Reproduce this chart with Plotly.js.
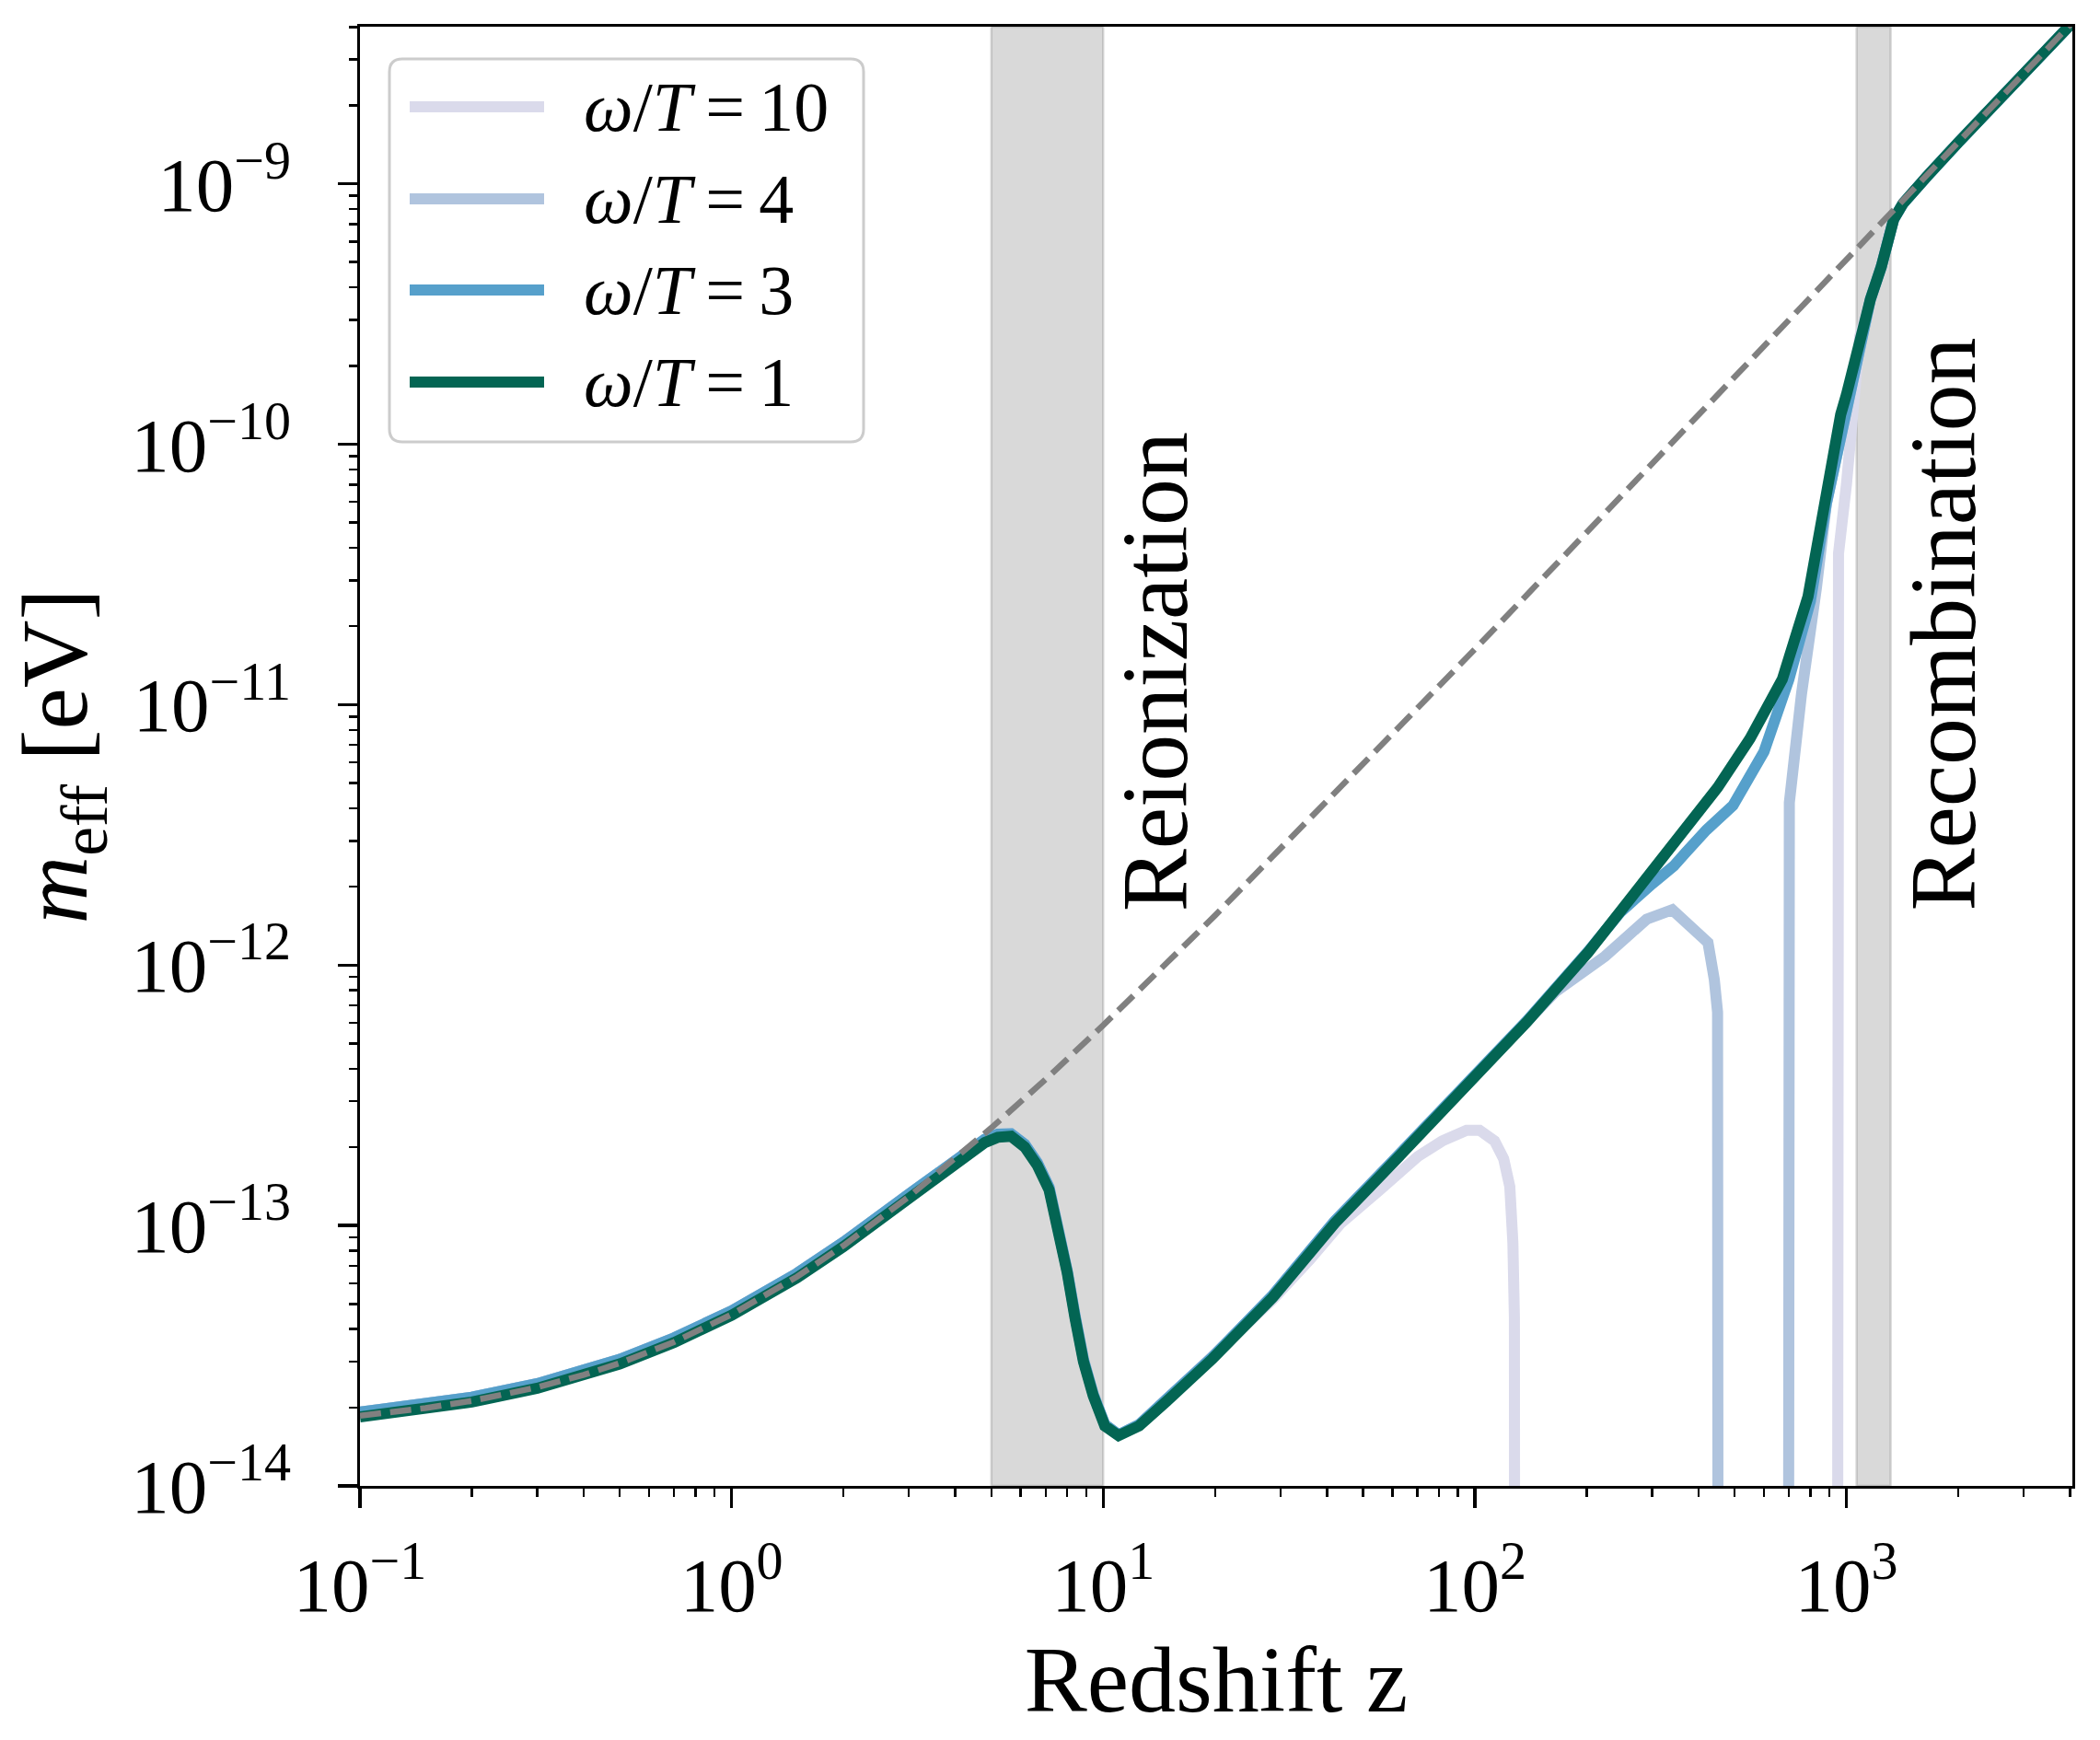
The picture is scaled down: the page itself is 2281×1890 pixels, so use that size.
<!DOCTYPE html>
<html>
<head>
<meta charset="utf-8">
<script src="https://cdn.plot.ly/plotly-3.0.1.min.js"></script>
<style>html,body{margin:0;padding:0;background:#fff;}</style>
</head>
<body>
<div id="chart" style="width:2281px;height:1890px;"></div>
<script>
// ---------------- data ----------------
const seriesNames = ["ω/T = 10", "ω/T = 4", "ω/T = 3", "ω/T = 1"];
const seriesColors = ["#dadaeb", "#b0c4de", "#56a0cb", "#036553"];

const zW10 = [0.1, 0.2, 0.3, 0.5, 0.7, 1, 1.5, 2, 3, 3.6, 4.3, 4.8, 5.2, 5.65, 6.15, 6.65, 7.15, 7.6, 8.0, 8.4, 8.85, 9.4, 10.1, 11.0, 12.5, 14.8, 19.7,
  28.6, 36, 43.6, 55.9, 70.2, 81.7, 95, 103, 113, 119.6, 124.2, 126.6, 127.8, 128.2, null, 945, 947, 952, 1000, 1040,
  1086, 1160, 1241, 1300, 1340, 1420, 1500, 1650, 2000, 3000, 4060];
const mW10 = [1.92e-14, 2.19e-14, 2.47e-14, 3.06e-14, 3.70e-14, 4.70e-14, 6.55e-14, 8.62e-14, 1.32e-13, 1.60e-13, 1.90e-13, 2.14e-13, 2.24e-13, 2.25e-13, 2.05e-13, 1.74e-13, 1.40e-13, 9.8e-14, 6.7e-14, 4.5e-14, 3.05e-14, 2.25e-14, 1.72e-14, 1.57e-14, 1.72e-14, 2.15e-14, 3.13e-14,
  5.2e-14, 7.4e-14, 1.02e-13, 1.38e-13, 1.84e-13, 2.11e-13, 2.32e-13, 2.32e-13, 2.11e-13, 1.80e-13, 1.41e-13, 8.6e-14, 4.4e-14, 1e-16, null, 1e-16, 2.3e-11, 3.8e-11, 7.0e-11, 1.2e-10,
  2.6e-10, 3.6e-10, 4.8e-10, 6.4e-10, 7.3e-10, 8.4e-10, 9.3e-10, 1.07e-9, 1.44e-9, 2.64e-9, 4.16e-9];

const zW4 = [0.1, 0.2, 0.3, 0.5, 0.7, 1, 1.5, 2, 3, 3.6, 4.3, 4.8, 5.2, 5.65, 6.15, 6.65, 7.15, 7.6, 8.0, 8.4, 8.85, 9.4, 10.1, 11.0, 12.5, 14.8, 19.7, 28.6, 42, 60, 80, 113, 138,
  165, 224, 290, 340, 391, 424, 441, 450, 452, null, 697, 699, 702, 757, 801, 830, 883, 984,
  1086, 1160, 1241, 1300, 1340, 1420, 1500, 1650, 2000, 3000, 4060];
const mW4 = [1.92e-14, 2.19e-14, 2.47e-14, 3.06e-14, 3.70e-14, 4.70e-14, 6.55e-14, 8.62e-14, 1.32e-13, 1.60e-13, 1.90e-13, 2.14e-13, 2.24e-13, 2.25e-13, 2.05e-13, 1.74e-13, 1.40e-13, 9.8e-14, 6.7e-14, 4.5e-14, 3.05e-14, 2.25e-14, 1.72e-14, 1.57e-14, 1.72e-14, 2.15e-14, 3.13e-14, 5.4e-14, 1.04e-13, 1.76e-13, 2.70e-13, 4.45e-13, 6.1e-13,
  7.9e-13, 1.08e-12, 1.50e-12, 1.63e-12, 1.38e-12, 1.22e-12, 8.8e-13, 6.6e-13, 1e-16, null, 1e-16, 2.7e-12, 4.2e-12, 1.1e-11, 1.9e-11, 2.8e-11, 5.9e-11, 1.22e-10,
  2.6e-10, 3.6e-10, 4.8e-10, 6.4e-10, 7.3e-10, 8.4e-10, 9.3e-10, 1.07e-9, 1.44e-9, 2.64e-9, 4.16e-9];

const zW3 = [0.1, 0.2, 0.3, 0.5, 0.7, 1, 1.5, 2, 3, 3.6, 4.3, 4.8, 5.2, 5.65, 6.15, 6.65, 7.15, 7.6, 8.0, 8.4, 8.85, 9.4, 10.1, 11.0, 12.5, 14.8, 19.7, 28.6, 42, 60, 80, 113, 138, 202,
  247, 300, 343, 369, 420, 495, 600, 700, 800, 883, 984,
  1086, 1160, 1241, 1300, 1340, 1420, 1500, 1650, 2000, 3000, 4060];
const mW3 = [1.92e-14, 2.19e-14, 2.47e-14, 3.06e-14, 3.70e-14, 4.70e-14, 6.55e-14, 8.62e-14, 1.32e-13, 1.60e-13, 1.90e-13, 2.14e-13, 2.24e-13, 2.25e-13, 2.05e-13, 1.74e-13, 1.40e-13, 9.8e-14, 6.7e-14, 4.5e-14, 3.05e-14, 2.25e-14, 1.72e-14, 1.57e-14, 1.72e-14, 2.15e-14, 3.13e-14, 5.4e-14, 1.04e-13, 1.76e-13, 2.70e-13, 4.45e-13, 6.1e-13, 1.13e-12,
  1.60e-12, 2.05e-12, 2.40e-12, 2.70e-12, 3.30e-12, 4.10e-12, 6.6e-12, 1.25e-11, 2.5e-11, 5.9e-11, 1.22e-10,
  2.6e-10, 3.6e-10, 4.8e-10, 6.4e-10, 7.3e-10, 8.4e-10, 9.3e-10, 1.07e-9, 1.44e-9, 2.64e-9, 4.16e-9];

const zW1 = [0.1, 0.2, 0.3, 0.5, 0.7, 1, 1.5, 2, 3, 3.6, 4.3, 4.8, 5.2, 5.65, 6.15, 6.65, 7.15, 7.6, 8.0, 8.4, 8.85, 9.4, 10.1, 11.0, 12.5, 14.8, 19.7, 28.6, 42, 60, 80, 113, 138, 202, 300,
  450, 550, 672, 788, 875, 965, 1000, 1086, 1160, 1241, 1300, 1340, 1420, 1500, 1650, 2000, 3000, 4060];
const mW1 = [1.84e-14, 2.10e-14, 2.37e-14, 2.94e-14, 3.55e-14, 4.52e-14, 6.30e-14, 8.30e-14, 1.27e-13, 1.55e-13, 1.84e-13, 2.08e-13, 2.18e-13, 2.20e-13, 2.00e-13, 1.70e-13, 1.37e-13, 9.6e-14, 6.6e-14, 4.4e-14, 3.0e-14, 2.22e-14, 1.70e-14, 1.56e-14, 1.70e-14, 2.11e-14, 3.08e-14, 5.3e-14, 1.02e-13, 1.73e-13, 2.65e-13, 4.4e-13, 6.04e-13, 1.12e-12, 2.28e-12,
  4.8e-12, 7.4e-12, 1.25e-11, 2.6e-11, 6.2e-11, 1.3e-10, 1.55e-10, 2.6e-10, 3.6e-10, 4.8e-10, 6.4e-10, 7.3e-10, 8.4e-10, 9.3e-10, 1.07e-9, 1.44e-9, 2.64e-9, 4.16e-9];

// plasma-mass reference (grey dashed)
const zDash = [0.1, 0.15, 0.2, 0.3, 0.4, 0.5, 0.7, 1, 1.5, 2, 3, 4, 5, 7, 10, 20, 50, 100, 200, 500, 1000, 2000, 4060];
const mDash = [1.86e-14, 1.99e-14, 2.12e-14, 2.39e-14, 2.67e-14, 2.96e-14, 3.57e-14, 4.55e-14, 6.36e-14, 8.37e-14, 1.29e-13, 1.80e-13, 2.37e-13, 3.64e-13, 5.87e-13, 1.55e-12, 5.86e-12, 1.63e-11, 4.59e-11, 1.81e-10, 5.10e-10, 1.44e-9, 4.17e-9];

// shaded epochs (redshift ranges) and where their labels sit
const bandNames = ["Reionization", "Recombination"];
const bandRanges = [[5, 10], [1065, 1315]];
const bandLabelZ = [13.8, 1815];
const bandLabelM = 1.58e-12;

// tick labels
const xTickVals = [0.1, 1, 10, 100, 1000];
const xTickText = ["10<sup>−1</sup>", "10<sup>0</sup>", "10<sup>1</sup>", "10<sup>2</sup>", "10<sup>3</sup>"];
const yTickVals = [1e-14, 1e-13, 1e-12, 1e-11, 1e-10, 1e-9];
const yTickText = ["10<sup>−14</sup>", "10<sup>−13</sup>", "10<sup>−12</sup>", "10<sup>−11</sup>", "10<sup>−10</sup>", "10<sup>−9</sup>"];

// ---------------- build ----------------
const FONT = "Liberation Serif, 'Times New Roman', serif";
const zs = [zW10, zW4, zW3, zW1];
const ms = [mW10, mW4, mW3, mW1];

const traces = zs.map((z, i) => ({
  type: "scatter", mode: "lines", x: z, y: ms[i], name: seriesNames[i],
  line: {color: seriesColors[i], width: 12}, connectgaps: false, showlegend: false
}));
traces.push({
  type: "scatter", mode: "lines", x: zDash, y: mDash, name: "plasma",
  line: {color: "#808080", width: 6.5, dash: "23px,10px"}, showlegend: false
});

function minorVals(lo, hi) {
  const out = [];
  for (let e = lo; e <= hi; e++) for (let k = 2; k <= 9; k++) out.push(k * Math.pow(10, e));
  return out;
}

// plot area geometry in px for paper conversions (legend)
const L = 391, R = 30, T = 29, B = 276, W = 2281, H = 1890;
const PW = W - L - R, PH = H - T - B;
const PX = px => (px - L) / PW;
const PY = py => (H - B - py) / PH;

function roundRect(x0, y0, x1, y1, r) {
  const p = (x, y) => `${PX(x)},${PY(y)}`;
  return `M${p(x0 + r, y0)} L${p(x1 - r, y0)} Q${p(x1, y0)} ${p(x1, y0 + r)} L${p(x1, y1 - r)} Q${p(x1, y1)} ${p(x1 - r, y1)} L${p(x0 + r, y1)} Q${p(x0, y1)} ${p(x0, y1 - r)} L${p(x0, y0 + r)} Q${p(x0, y0)} ${p(x0 + r, y0)} Z`;
}

const shapes = bandRanges.map(b => ({
  type: "rect", xref: "x", yref: "paper", x0: b[0], x1: b[1], y0: 0, y1: 1,
  fillcolor: "rgba(128,128,128,0.3)", line: {color: "rgba(128,128,128,0.3)", width: 2.5}, layer: "below"
}));

// legend (top-left corner)
shapes.push({type: "path", xref: "paper", yref: "paper", path: roundRect(423, 64, 938, 480, 14),
  fillcolor: "rgba(255,255,255,0.8)", line: {color: "#cccccc", width: 3}, layer: "above"});
const legendRowsY = [116, 216, 315, 415];
const annotations = [];
seriesNames.forEach((nm, i) => {
  shapes.push({type: "line", xref: "paper", yref: "paper", x0: PX(445), x1: PX(591), y0: PY(legendRowsY[i]), y1: PY(legendRowsY[i]),
    line: {color: seriesColors[i], width: 12}, layer: "above"});
  const parts = nm.split(" = ");
  annotations.push({xref: "paper", yref: "paper", x: PX(632), y: PY(legendRowsY[i]), xanchor: "left", yanchor: "middle",
    text: "<i>ω</i>/<i>T</i>\u2009=\u2009" + parts[1], showarrow: false, font: {family: FONT, size: 76, color: "black"}});
});

// epoch labels (annotation x/y on log axes are log10 values)
bandNames.forEach((nm, i) => {
  annotations.push({xref: "x", yref: "y", x: Math.log10(bandLabelZ[i]), y: Math.log10(bandLabelM), xanchor: "center", yanchor: "bottom",
    textangle: -90, text: nm, showarrow: false, font: {family: FONT, size: 102, color: "black"}});
});

const axisCommon = {
  type: "log", showline: true, mirror: true, linecolor: "black", linewidth: 3.3,
  ticks: "outside", ticklen: 21, tickwidth: 3.3, tickcolor: "black",
  showgrid: false, zeroline: false, tickmode: "array",
  tickfont: {family: FONT, size: 83, color: "black"}
};

const layout = {
  width: W, height: H,
  margin: {l: L, r: R, t: T, b: B, pad: 0},
  paper_bgcolor: "white", plot_bgcolor: "white",
  font: {family: FONT, color: "black"},
  showlegend: false,
  xaxis: Object.assign({}, axisCommon, {
    range: [-1, 3.608], tickvals: xTickVals, ticktext: xTickText, ticklabelstandoff: 12,
    minor: {tickmode: "array", tickvals: minorVals(-1, 3).filter(v => v < 4060), ticks: "outside", ticklen: 9, tickwidth: 2.5, tickcolor: "black", showgrid: false},
    title: {text: "Redshift z", font: {family: FONT, size: 102, color: "black"}, standoff: 6}
  }),
  yaxis: Object.assign({}, axisCommon, {
    range: [-14, -8.397], tickvals: yTickVals, ticktext: yTickText, ticklabelstandoff: 34,
    minor: {tickmode: "array", tickvals: minorVals(-14, -9).filter(v => v < 4.1e-9), ticks: "outside", ticklen: 9, tickwidth: 2.5, tickcolor: "black", showgrid: false},
    title: {text: "<i>m</i><sub>eff</sub> [eV]", font: {family: FONT, size: 102, color: "black"}, standoff: 14}
  }),
  shapes: shapes,
  annotations: annotations
};

Plotly.newPlot("chart", traces, layout, {displayModeBar: false, staticPlot: true});
</script>
</body>
</html>
